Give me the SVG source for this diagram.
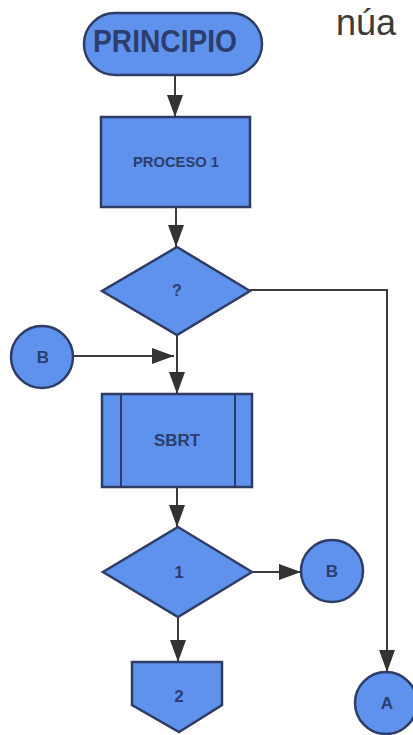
<svg xmlns="http://www.w3.org/2000/svg" width="413" height="735" viewBox="0 0 413 735">
<style>
.shape{fill:#5f92ec;stroke:#2f3d66;stroke-width:2.5}
.lbl{fill:#2c3e6e;font-family:"Liberation Sans",Arial,sans-serif;font-weight:bold;text-anchor:middle}
.conn{fill:none;stroke:#3a3a3a;stroke-width:2}
.inner{fill:none;stroke:#2f3d66;stroke-width:2}
</style>
<defs>
<marker id="arr" markerUnits="userSpaceOnUse" viewBox="0 0 22 16" refX="22" refY="8" markerWidth="22" markerHeight="16" orient="auto">
<path d="M0,0 L22,8 L0,16 z" fill="#333"/>
</marker>
</defs>
<rect width="413" height="735" fill="#ffffff"/>
<text x="336" y="35" font-family="'Liberation Sans',Arial,sans-serif" font-size="36" fill="#3a3a3a">núa</text>
<g id="connectors">
<line class="conn" x1="175" y1="75" x2="175" y2="117" marker-end="url(#arr)"/>
<line class="conn" x1="176" y1="207" x2="176" y2="247" marker-end="url(#arr)"/>
<line class="conn" x1="177" y1="335" x2="177" y2="394" marker-end="url(#arr)"/>
<line class="conn" x1="73" y1="356" x2="174" y2="356" marker-end="url(#arr)"/>
<line class="conn" x1="177" y1="487" x2="177" y2="527" marker-end="url(#arr)"/>
<line class="conn" x1="252" y1="572" x2="301" y2="572" marker-end="url(#arr)"/>
<line class="conn" x1="178" y1="617" x2="178" y2="662" marker-end="url(#arr)"/>
<polyline class="conn" points="250,290 387,290 387,672" marker-end="url(#arr)"/>
</g>
<g id="principio">
<rect class="shape" x="84" y="13" width="178" height="62" rx="31" ry="31"/>
<text class="lbl" x="165" y="52" font-size="32" textLength="144" lengthAdjust="spacingAndGlyphs" font-weight="normal">PRINCIPIO</text>
</g>
<g id="proceso1">
<rect class="shape" x="101" y="117" width="149" height="90"/>
<text class="lbl" x="176" y="167" font-size="15" textLength="86" lengthAdjust="spacingAndGlyphs">PROCESO 1</text>
</g>
<g id="decision1">
<polygon class="shape" points="177,247 250,291 177,335 102,291"/>
<text class="lbl" x="177" y="296" font-size="16">?</text>
</g>
<g id="conectorB1">
<circle class="shape" cx="42" cy="357" r="31"/>
<text class="lbl" x="43" y="363" font-size="17">B</text>
</g>
<g id="sbrt">
<rect class="shape" x="102" y="394" width="150" height="93"/>
<line class="inner" x1="121" y1="394" x2="121" y2="487"/>
<line class="inner" x1="235" y1="394" x2="235" y2="487"/>
<text class="lbl" x="177" y="446" font-size="16" textLength="46" lengthAdjust="spacingAndGlyphs">SBRT</text>
</g>
<g id="decision2">
<polygon class="shape" points="178,527 252,572 178,617 103,572"/>
<text class="lbl" x="179" y="578" font-size="17">1</text>
</g>
<g id="conectorB2">
<circle class="shape" cx="332" cy="571" r="31"/>
<text class="lbl" x="332" y="577" font-size="17">B</text>
</g>
<g id="pagina2">
<polygon class="shape" points="132,662 222,662 222,705 179,732 132,705"/>
<text class="lbl" x="179" y="702" font-size="17">2</text>
</g>
<g id="conectorA">
<circle class="shape" cx="386" cy="703" r="31"/>
<text class="lbl" x="387" y="709" font-size="17">A</text>
</g>
</svg>
